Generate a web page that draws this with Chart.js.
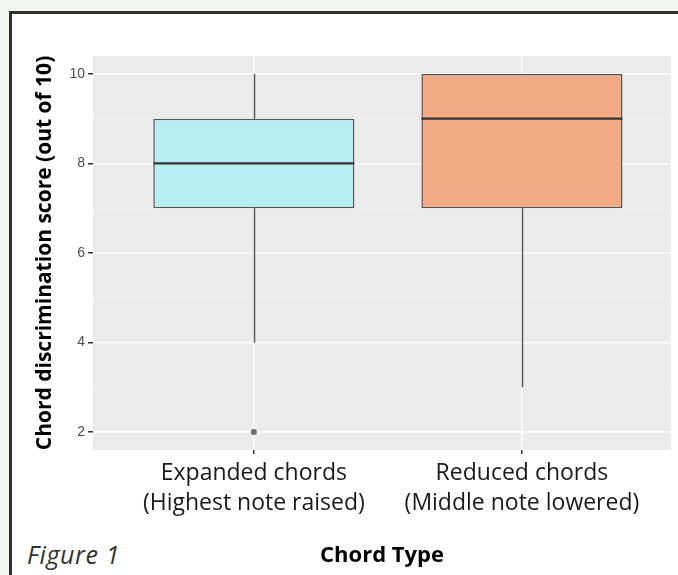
<!DOCTYPE html>
<html>
<head>
<meta charset="utf-8">
<script src="https://cdn.jsdelivr.net/npm/chart.js@4.4.1/dist/chart.umd.min.js"></script>
<style>
  html, body { margin: 0; padding: 0; }
  body { width: 678px; height: 575px; background: #f1f7ee; position: relative; overflow: hidden; }
  #frame {
    position: absolute; left: 9px; top: 11px; right: 0; bottom: 0;
    background: #ffffff; border-left: 3px solid #2e2e2e; border-top: 3px solid #2e2e2e;
  }
  #wrap { position: absolute; left: 0; top: 0; width: 678px; height: 575px; }
  #figLabel {
    position: absolute; left: 27px; top: 537px;
    font-family: "Open Sans", Lato, sans-serif; font-style: italic; font-size: 25px;
    color: #333333; letter-spacing: 0.6px;
  }
</style>
</head>
<body>
<div id="frame"></div>
<div id="figLabel">Figure 1</div>
<div id="wrap"><canvas id="boxChart" width="678" height="575"></canvas></div>
<script>
// 데이터
const categories = [['Expanded chords', '(Highest note raised)'], ['Reduced chords', '(Middle note lowered)']];
const whiskerLow = [4, 3];
const q1 = [7, 7];
const medians = [8, 9];
const q3 = [9, 10];
const whiskerHigh = [10, 10];
const outlierValues = [[2], []];
const yTickValues = [2, 4, 6, 8, 10];
const boxColors = ['#b7eef2', '#f2aa85'];

const boxData = categories.map((c, i) => ({ x: i + 1, y: [q1[i], q3[i]] }));
const outlierData = [];
outlierValues.forEach((vals, i) => vals.forEach(v => outlierData.push({ x: i + 1, y: v })));

// 패널 배경 + 수염/중앙값
const boxPlugin = {
  id: 'boxExtras',
  beforeDraw(chart) {
    const { ctx, chartArea } = chart;
    ctx.save();
    ctx.fillStyle = '#ebebeb';
    ctx.fillRect(chartArea.left, chartArea.top, chartArea.right - chartArea.left, chartArea.bottom - chartArea.top);
    ctx.restore();
  },
  beforeDatasetsDraw(chart) {
    const { ctx } = chart;
    const xs = chart.scales.x, ys = chart.scales.y;
    ctx.save();
    ctx.strokeStyle = '#555555';
    ctx.lineWidth = 1.5;
    categories.forEach((c, i) => {
      const px = Math.round(xs.getPixelForValue(i + 1)) + 0.5;
      ctx.beginPath();
      ctx.moveTo(px, ys.getPixelForValue(whiskerLow[i]));
      ctx.lineTo(px, ys.getPixelForValue(q1[i]));
      ctx.moveTo(px, ys.getPixelForValue(q3[i]));
      ctx.lineTo(px, ys.getPixelForValue(whiskerHigh[i]));
      ctx.stroke();
    });
    ctx.restore();
  },
  afterDatasetsDraw(chart) {
    const { ctx } = chart;
    const ys = chart.scales.y;
    const meta = chart.getDatasetMeta(0);
    ctx.save();
    ctx.strokeStyle = '#333333';
    ctx.lineWidth = 2.2;
    meta.data.forEach((bar, i) => {
      const half = bar.width / 2;
      const py = ys.getPixelForValue(medians[i]);
      ctx.beginPath();
      ctx.moveTo(bar.x - half, py);
      ctx.lineTo(bar.x + half, py);
      ctx.stroke();
    });
    ctx.restore();
  }
};

new Chart(document.getElementById('boxChart'), {
  type: 'bar',
  data: {
    datasets: [{
      type: 'bar',
      label: 'box',
      data: boxData,
      backgroundColor: boxColors,
      borderColor: '#555555',
      borderWidth: 1.5,
      borderSkipped: false,
      categoryPercentage: 1,
      barPercentage: 0.75
    }, {
      type: 'scatter',
      label: 'outliers',
      data: outlierData,
      pointRadius: 3,
      pointBackgroundColor: '#6b6b6b',
      pointBorderColor: '#6b6b6b',
      pointBorderWidth: 0
    }]
  },
  options: {
    responsive: false,
    animation: false,
    layout: { padding: { top: 56, right: 7, left: 0, bottom: 0 } },
    plugins: { legend: { display: false }, tooltip: { enabled: false } },
    scales: {
      x: {
        type: 'linear',
        offset: false,
        min: 0.4,
        max: 2.556,
        afterBuildTicks: (scale) => { scale.ticks = categories.map((c, i) => ({ value: i + 1 })); },
        afterFit: (scale) => { scale.height = 125; },
        border: { display: false },
        grid: { offset: false, color: '#ffffff', lineWidth: 1.5, tickColor: '#333333', tickLength: 4 },
        ticks: {
          padding: 5,
          color: '#1a1a1a',
          font: { family: '"Open Sans", Lato, sans-serif', size: 23, lineHeight: 1.3 },
          callback: (v) => categories[Math.round(v) - 1]
        },
        title: {
          display: true,
          text: 'Chord Type',
          color: '#000000',
          padding: { top: 0, bottom: 6 },
          font: { family: '"Open Sans", Lato, sans-serif', size: 22, weight: 'bold' }
        }
      },
      y: {
        type: 'linear',
        min: 1.6,
        max: 10.4,
        afterBuildTicks: (scale) => {
          const t = [];
          for (let v = 2; v <= 10; v++) t.push({ value: v });
          scale.ticks = t;
        },
        afterFit: (scale) => { scale.width = 93; },
        border: { display: false },
        grid: {
          color: (c) => (c.tick && c.tick.value % 2 === 0) ? '#ffffff' : '#f4f4f4',
          lineWidth: (c) => (c.tick && c.tick.value % 2 === 0) ? 1.5 : 0.8,
          tickColor: (c) => (c.tick && c.tick.value % 2 === 0) ? '#333333' : 'rgba(0,0,0,0)',
          tickLength: 5
        },
        ticks: {
          padding: 3,
          color: '#4d4d4d',
          font: { family: '"Liberation Sans", Arial, sans-serif', size: 14 },
          callback: (v) => yTickValues.includes(v) ? String(v) : ''
        },
        title: {
          display: true,
          text: 'Chord discrimination score (out of 10)',
          color: '#000000',
          padding: { top: 32, bottom: 0 },
          font: { family: '"Open Sans", Lato, sans-serif', size: 21, weight: 'bold' }
        }
      }
    }
  },
  plugins: [boxPlugin]
});
</script>
</body>
</html>
